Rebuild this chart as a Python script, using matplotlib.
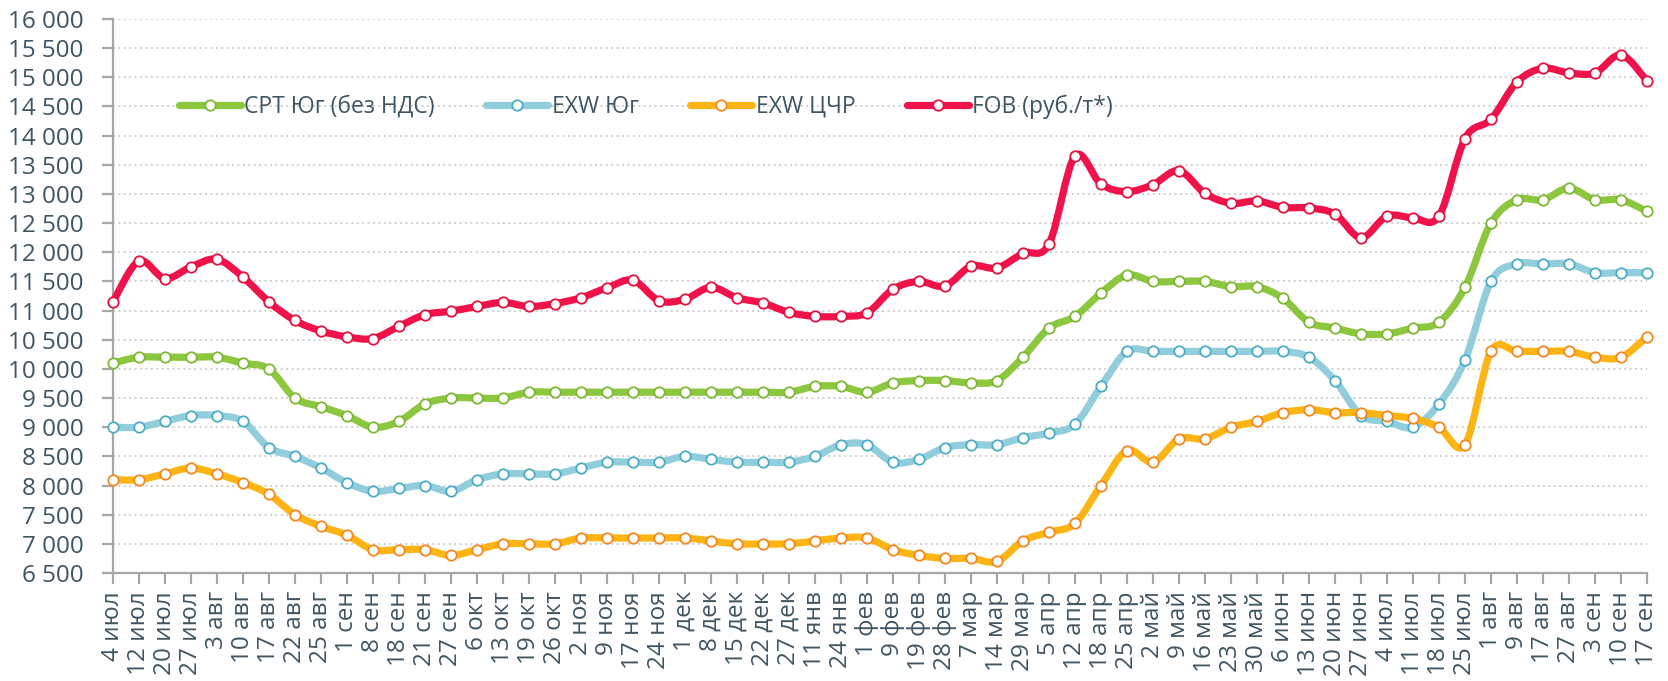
import numpy as np
import matplotlib
matplotlib.use("Agg")
import matplotlib.pyplot as plt
from matplotlib.path import Path
from matplotlib.patches import PathPatch
from matplotlib.lines import Line2D
from matplotlib.ticker import FuncFormatter

plt.rcParams['font.family'] = ['Open Sans', 'DejaVu Sans']

dates = ['4 июл', '12 июл', '20 июл', '27 июл', '3 авг', '10 авг', '17 авг', '22 авг',
         '25 авг', '1 сен', '8 сен', '18 сен', '21 сен', '27 сен', '6 окт', '13 окт',
         '19 окт', '26 окт', '2 ноя', '9 ноя', '17 ноя', '24 ноя', '1 дек', '8 дек',
         '15 дек', '22 дек', '27 дек', '11 янв', '24 янв', '1 фев', '9 фев', '19 фев',
         '28 фев', '7 мар', '14 мар', '29 мар', '5 апр', '12 апр', '18 апр', '25 апр',
         '2 май', '9 май', '16 май', '23 май', '30 май', '6 июн', '13 июн', '20 июн',
         '27 июн', '4 июл', '11 июл', '18 июл', '25 июл', '1 авг', '9 авг', '17 авг',
         '27 авг', '3 сен', '10 сен', '17 сен']

cpt_south = [10100, 10200, 10200, 10200, 10200, 10100, 10000, 9500, 9350, 9200,
             9000, 9100, 9400, 9500, 9500, 9500, 9600, 9600, 9600, 9600,
             9600, 9600, 9600, 9600, 9600, 9600, 9600, 9700, 9700, 9600,
             9760, 9800, 9800, 9760, 9800, 10200, 10700, 10900, 11300, 11610,
             11500, 11500, 11500, 11410, 11410, 11210, 10800, 10700, 10600, 10600,
             10700, 10800, 11400, 12500, 12900, 12900, 13100, 12900, 12900, 12700]

exw_south = [9000, 9000, 9100, 9200, 9200, 9100, 8650, 8500, 8300, 8050,
             7900, 7950, 8000, 7900, 8100, 8200, 8200, 8200, 8300, 8400,
             8400, 8400, 8500, 8450, 8400, 8400, 8400, 8500, 8700, 8700,
             8400, 8450, 8650, 8700, 8700, 8820, 8900, 9050, 9700, 10300,
             10300, 10300, 10300, 10300, 10300, 10300, 10200, 9800, 9200, 9100,
             9000, 9400, 10150, 11500, 11800, 11800, 11800, 11650, 11650, 11650]

exw_ccr = [8100, 8100, 8200, 8300, 8200, 8050, 7850, 7500, 7300, 7150,
           6900, 6900, 6900, 6800, 6900, 7000, 7000, 7000, 7100, 7100,
           7100, 7100, 7100, 7050, 7000, 7000, 7000, 7050, 7100, 7100,
           6900, 6800, 6750, 6750, 6700, 7050, 7200, 7350, 8000, 8600,
           8400, 8800, 8800, 9000, 9100, 9250, 9300, 9250, 9250, 9200,
           9150, 9000, 8700, 10300, 10300, 10300, 10300, 10200, 10200, 10550]

fob = [11150, 11850, 11550, 11750, 11880, 11575, 11150, 10830, 10650, 10550,
       10520, 10730, 10930, 10990, 11070, 11140, 11070, 11120, 11220, 11390,
       11520, 11170, 11195, 11400, 11220, 11130, 10970, 10900, 10900, 10960,
       11365, 11500, 11420, 11760, 11730, 11980, 12140, 13650, 13170, 13040,
       13160, 13400, 13010, 12840, 12880, 12770, 12760, 12655, 12250, 12620,
       12590, 12620, 13950, 14280, 14920, 15155, 15075, 15075, 15385, 14940]

names = ['СРТ Юг (без НДС)', 'EXW Юг', 'EXW ЦЧР', 'FOB (руб./т*)']
line_colors = ['#8DC63F', '#92CDDC', '#FDB515', '#F0124A']
edge_colors = ['#7DB832', '#4BACC6', '#F7861D', '#E8103F']
text_color = '#3F5561'
axis_color = '#A6A6A6'


def smooth_path(xs, ys):
    # Catmull-Rom style bezier segments, like Excel's smoothed lines
    pts = np.column_stack([xs, ys]).astype(float)
    ext = np.vstack([pts[0], pts, pts[-1]])
    verts = [pts[0]]
    codes = [Path.MOVETO]
    for k in range(len(pts) - 1):
        p0, p1, p2, p3 = ext[k], ext[k + 1], ext[k + 2], ext[k + 3]
        c1 = p1 + (p2 - p0) / 6.0
        c2 = p2 - (p3 - p1) / 6.0
        verts += [c1, c2, p2]
        codes += [Path.CURVE4] * 3
    return Path(verts, codes)


fig = plt.figure(figsize=(16.68, 6.81), dpi=100)
ax = fig.add_axes([0.0677, 0.1586, 0.9197, 0.8135])

x = np.arange(len(dates))
series = [cpt_south, exw_south, exw_ccr, fob]
handles = []
for k, vals in enumerate(series):
    patch = PathPatch(smooth_path(x, vals), fill=False, edgecolor=line_colors[k],
                      lw=5.2, capstyle='round', joinstyle='round',
                      zorder=3 + 2 * k, clip_on=False)
    ax.add_patch(patch)
    ax.plot(x, vals, ls='none', marker='o', ms=7.5, mfc='white',
            mec=edge_colors[k], mew=1.3, zorder=4 + 2 * k, clip_on=False)
    handles.append(Line2D([], [], color=line_colors[k], lw=5.2,
                          solid_capstyle='round', marker='o', ms=7.5,
                          mfc='white', mec=edge_colors[k], mew=1.3))

ax.set_xlim(0, len(dates) - 1)
ax.set_ylim(6500, 16000)
ax.set_yticks(np.arange(6500, 16001, 500))
ax.yaxis.set_major_formatter(FuncFormatter(lambda v, p: f"{v:,.0f}".replace(',', ' ')))
ax.set_xticks(x)
ax.set_xticklabels(dates, rotation=90, ha='center', va='top')

ax.grid(axis='y', linestyle=(0, (1, 2)), color='#C8C8C8', lw=1.3, zorder=0)
ax.set_axisbelow(True)
for s in ['top', 'right']:
    ax.spines[s].set_visible(False)
for s in ['left', 'bottom']:
    ax.spines[s].set_color(axis_color)
    ax.spines[s].set_linewidth(1.6)
ax.tick_params(axis='both', colors=axis_color, length=8, width=1.6,
               labelcolor=text_color, labelsize=17.5)
ax.tick_params(axis='y', pad=13)
ax.tick_params(axis='x', pad=5)

leg = ax.legend(handles, names, loc='center left', bbox_to_anchor=(0.043, 0.842),
                ncol=4, frameon=False, fontsize=16.5, handlelength=2.7,
                handletextpad=0.15, columnspacing=2.25, numpoints=1,
                borderaxespad=0, borderpad=0)
for t in leg.get_texts():
    t.set_color(text_color)

fig.savefig('out.png', dpi=100)
